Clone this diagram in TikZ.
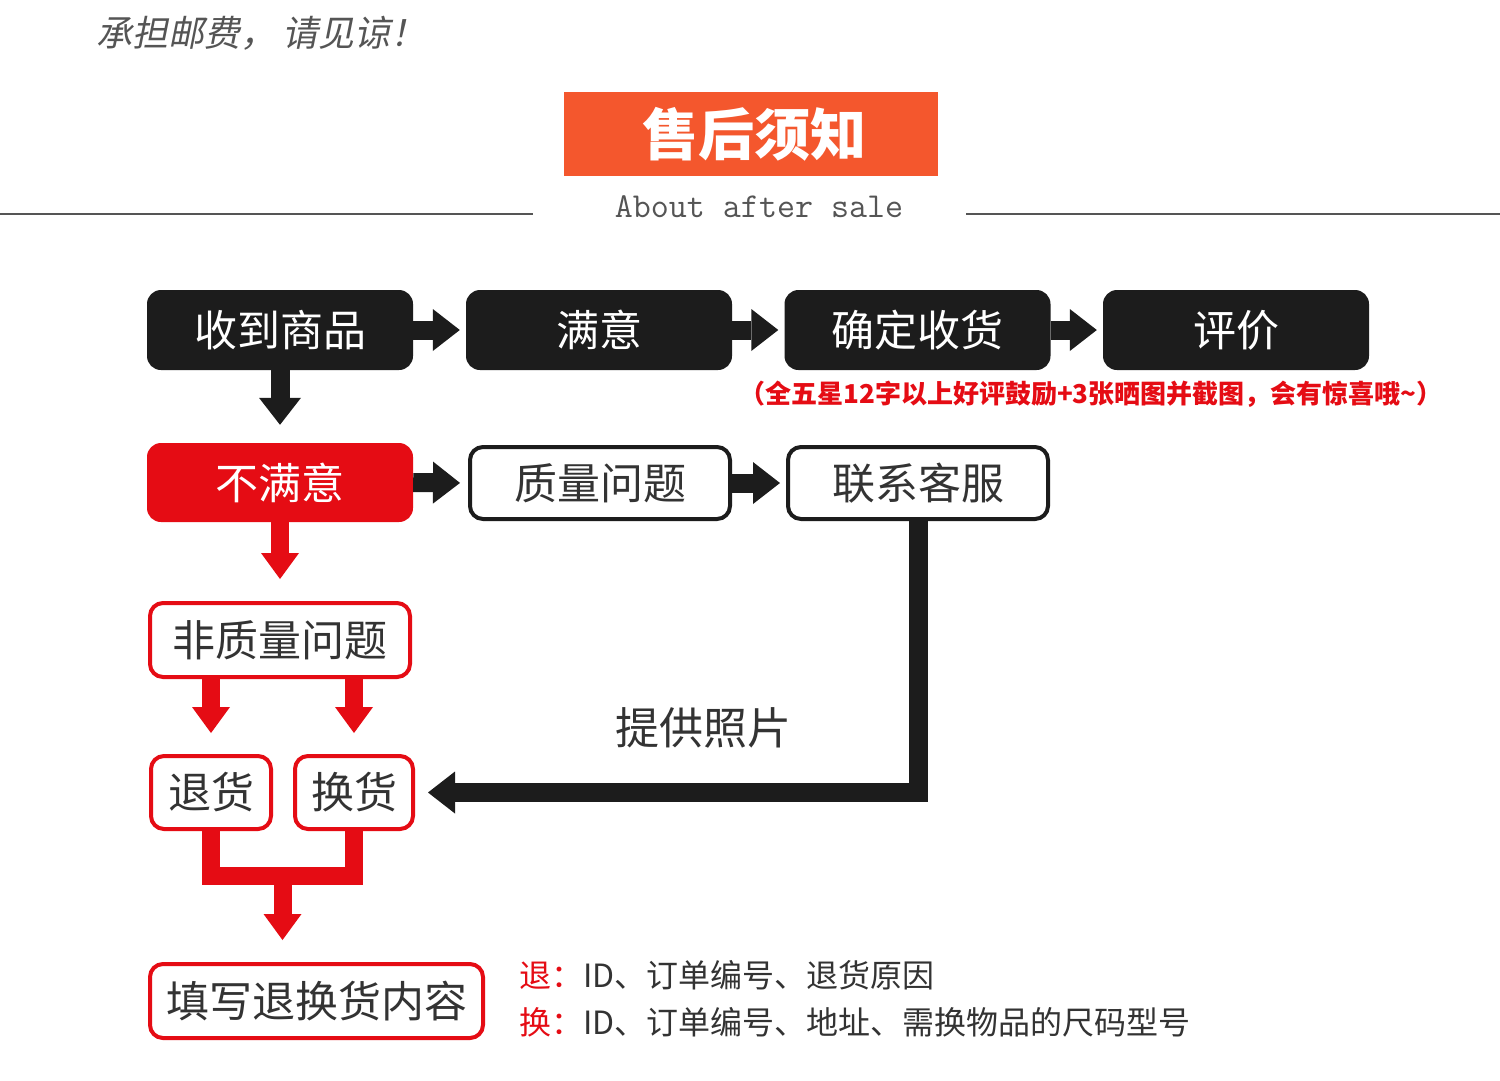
\documentclass[tikz,border=0pt]{standalone}
\usepackage{fontspec}
\setmainfont{Noto Sans CJK SC}
\newfontfamily\cjkslant[FakeSlant=0.2]{Noto Sans CJK SC}
\usetikzlibrary{arrows.meta,calc}
\definecolor{cblack}{HTML}{1C1C1C}
\definecolor{cred}{HTML}{E50C14}
\definecolor{corange}{HTML}{F4572D}
\definecolor{ctext}{HTML}{333333}
\definecolor{cgrey}{HTML}{555555}
\begin{document}
\begin{tikzpicture}[x=1pt,y=-1pt,
  boxfont/.style={font=\fontsize{43}{43}\selectfont},
  blackbox/.style={rectangle,rounded corners=14pt,fill=cblack,text=white,minimum width=266pt,minimum height=80pt,inner sep=0pt,boxfont},
  redfill/.style={rectangle,rounded corners=14pt,fill=cred,text=white,minimum width=266pt,minimum height=79pt,inner sep=0pt,boxfont},
  outbox/.style={rectangle,rounded corners=13pt,draw=cblack,line width=4pt,fill=white,text=ctext,minimum width=260pt,minimum height=72pt,inner sep=0pt,boxfont},
  redbox/.style={rectangle,rounded corners=13pt,draw=cred,line width=4pt,fill=white,text=ctext,minimum height=73pt,inner sep=0pt,boxfont},
  bkarrow/.style={draw=cblack,line width=19pt,-{Triangle[length=27pt,width=42pt,line width=0pt]}},
  rdarrow/.style={draw=cred,line width=18pt,-{Triangle[length=26pt,width=38pt,line width=0pt]}},
  rdline/.style={draw=cred,line width=18pt},
  rule/.style={draw=cgrey,line width=2pt}
]
\useasboundingbox[fill=white] (0,0) rectangle (1500,1080);

% header
\node[anchor=west,text=cgrey,font=\fontsize{36}{36}\cjkslant] (note) at (93,33) {承担邮费，\hspace{6pt}请见谅！};
\node[rectangle,fill=corange,minimum width=374pt,minimum height=84pt,inner sep=0pt,text=white,font=\fontsize{56}{56}\selectfont\bfseries] (title) at (751,134) {\hspace{6pt}售后须知};
\node[text=cgrey,font=\fontsize{35}{35}\ttfamily] (sub) at (759,207) {About after sale};
\coordinate (l1) at (0,214);
\coordinate (l2) at (533,214);
\coordinate (r1) at (966,214);
\coordinate (r2) at (1500,214);
\draw[rule] (l1) -- (l2);
\draw[rule] (r1) -- (r2);

% row 1
\node[blackbox] (recv) at (280,330) {收到商品};
\node[blackbox] (sat) at (599,330) {满意};
\node[blackbox] (conf) at (917.5,330) {确定收货};
\node[blackbox] (rate) at (1236,330) {评价};
\node[text=cred,font=\fontsize{26}{26}\selectfont\bfseries] (tip) at (1091,394) {（全五星12字以上好评鼓励+3张晒图并截图，会有惊喜哦\textasciitilde）};

% row 2
\node[redfill] (unsat) at (280,482.5) {不满意};
\node[outbox] (qual) at (600,483) {质量问题};
\node[outbox] (cs) at (918,483) {联系客服};

% row 3-5
\node[redbox,minimum width=260pt,minimum height=74pt] (nonq) at (280,640) {非质量问题};
\node[redbox,minimum width=120pt] (ret) at (211,792.5) {退货};
\node[redbox,minimum width=118pt] (exch) at (354,792.5) {换货};
\node[redbox,minimum width=333pt,minimum height=74pt] (fillin) at (316.5,1001) {填写退换货内容};

\node[text=ctext,font=\fontsize{44}{44}\selectfont] (photo) at (703,728) {提供照片};
\node[anchor=west,text=ctext,font=\fontsize{32}{32}\selectfont] (txt1) at (516,975) {\textcolor{cred}{退：}ID、订单编号、退货原因};
\node[anchor=west,text=ctext,font=\fontsize{32}{32}\selectfont] (txt2) at (516,1022) {\textcolor{cred}{换：}ID、订单编号、地址、需换物品的尺码型号};

% connectors
\draw[bkarrow,shorten >=6pt] (recv.east) -- (sat.west);
\draw[bkarrow,shorten >=6pt] (sat.east) -- (conf.west);
\draw[bkarrow,shorten >=6pt] (conf.east) -- (rate.west);
\draw[bkarrow,shorten >=18pt] (recv.south) -- (unsat.north);
\draw[bkarrow,shorten >=8pt] (unsat.east) -- (qual.west);
\draw[bkarrow,shorten >=6pt] (qual.east) -- (cs.west);
\draw[rdarrow,shorten >=22pt] (unsat.south) -- (nonq.north);
\draw[rdarrow,shorten >=21pt] (nonq.south -| ret.north) -- (ret.north);
\draw[rdarrow,shorten >=21pt] (nonq.south -| exch.north) -- (exch.north);
\coordinate (merge) at ($(ret.south)!0.5!(exch.south)+(0,45)$);
\draw[rdline] (ret.south) |- (merge) -| (exch.south);
\draw[rdarrow,shorten >=22pt] (merge) -- (merge |- fillin.north);
\draw[bkarrow,shorten >=13pt] (cs.south) |- (exch.east);
\end{tikzpicture}
\end{document}
